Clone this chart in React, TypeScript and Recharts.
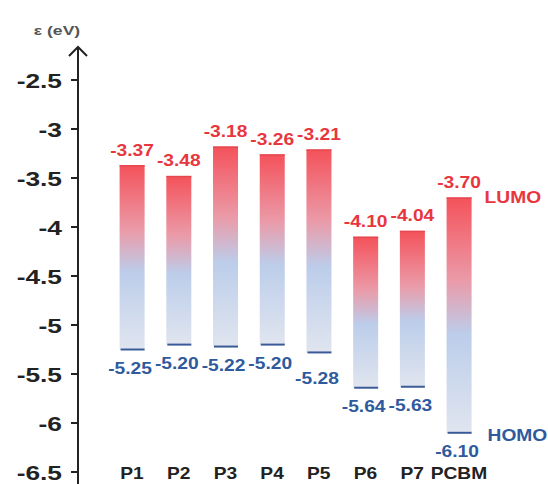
import { BarChart, Bar, XAxis, YAxis, LabelList } from "recharts";

const materials = ["P1", "P2", "P3", "P4", "P5", "P6", "P7", "PCBM"];
const lumo = [-3.37, -3.48, -3.18, -3.26, -3.21, -4.1, -4.04, -3.7];
const homo = [-5.25, -5.2, -5.22, -5.2, -5.28, -5.64, -5.63, -6.1];
const yTicks = [-6.5, -6, -5.5, -5, -4.5, -4, -3.5, -3, -2.5];
const yDomain = [-6.6224, -2.1633];

const data = materials.map((name, i) => ({
  name,
  lumo: lumo[i],
  homo: homo[i],
  range: [homo[i], lumo[i]],
}));

const RED = "#e8363e";
const BLUE = "#2f5a9e";
const FONT = "'Liberation Sans', Arial, sans-serif";

function boxOf(p: any) {
  const v = p.viewBox && p.viewBox.width != null ? p.viewBox : p;
  const top = Math.min(v.y, v.y + v.height);
  const bottom = Math.max(v.y, v.y + v.height);
  return { x: v.x, w: v.width, top, bottom };
}

const Stretched = ({ x, y, children, sx = 1.2, size = 16, color = "#222", anchor = "middle", weight = "bold" }: any) => (
  <text
    transform={`translate(${x} ${y}) scale(${sx} 1)`}
    textAnchor={anchor}
    dominantBaseline="central"
    fontFamily={FONT}
    fontSize={size}
    fontWeight={weight}
    fill={color}
  >
    {children}
  </text>
);

const EnergyBar = (props: any) => {
  const { x, y, width, height } = props;
  const top = Math.min(y, y + height);
  const h = Math.abs(height);
  return (
    <g>
      <rect x={x} y={top} width={width} height={h} fill="url(#energyGrad)" />
      <line x1={x} x2={x + width} y1={top + 0.5} y2={top + 0.5} stroke="#e54850" strokeWidth={1.5} />
      <line x1={x + 1} x2={x + width} y1={top + h} y2={top + h} stroke="#3b5b98" strokeWidth={2} />
    </g>
  );
};

const lumoLabel = (p: any) => {
  const b = boxOf(p);
  const cx = b.x + b.w / 2;
  return (
    <g key={`l${p.index}`}>
      <Stretched x={cx} y={b.top - 15} color={RED}>
        {Number(p.value).toFixed(2)}
      </Stretched>
      {p.index === materials.length - 1 && (
        <Stretched x={b.x + b.w + 13} y={b.top} color={RED} anchor="start">
          LUMO
        </Stretched>
      )}
    </g>
  );
};

const homoLabel = (p: any) => {
  const b = boxOf(p);
  const cx = b.x + b.w / 2;
  const extra = p.index === 4 ? 7 : 0;
  return (
    <g key={`h${p.index}`}>
      <Stretched x={cx - 2} y={b.bottom + 19 + extra} color={BLUE}>
        {Number(p.value).toFixed(2)}
      </Stretched>
      {p.index === materials.length - 1 && (
        <Stretched x={b.x + b.w + 16} y={b.bottom + 3} color={BLUE} anchor="start">
          HOMO
        </Stretched>
      )}
    </g>
  );
};

const YTick = ({ x, y, payload }: any) => (
  <Stretched x={x} y={y + 1} sx={1.35} size={19.5} anchor="end" color="#222">
    {String(payload.value)}
  </Stretched>
);

const XTick = ({ x, y, payload }: any) => (
  <Stretched x={x} y={y - 10} sx={1.2} size={16} color="#222">
    {payload.value}
  </Stretched>
);

// arrow head, axis title and the short tick marks on the left of the axis
const AxisDecor = (p: any) => {
  const v = p.viewBox || {};
  const ax = v.x + v.width;
  const top = v.y;
  const span = yDomain[1] - yDomain[0];
  return (
    <g>
      <polyline
        points={`${ax - 9},${top + 9} ${ax},${top} ${ax + 9},${top + 9}`}
        fill="none"
        stroke="#222"
        strokeWidth={2}
      />
      {yTicks.map((t) => {
        const ty = top + ((yDomain[1] - t) / span) * v.height;
        return <line key={t} x1={ax - 7} x2={ax} y1={ty} y2={ty} stroke="#222" strokeWidth={2} />;
      })}
      <Stretched x={ax - 21} y={top - 17} sx={1.35} size={13} color="#555">
        ε (eV)
      </Stretched>
    </g>
  );
};

export default function App() {
  return (
    <div style={{ position: "absolute", left: 0, top: 0, width: 548, height: 484, overflow: "hidden", background: "#fff" }}>
      <BarChart
        width={548}
        height={520}
        data={data}
        margin={{ top: 47, right: 0, bottom: 0, left: 0 }}
        barSize={25}
      >
        <defs>
          <linearGradient id="energyGrad" x1="0" y1="0" x2="0" y2="1">
            <stop offset="0%" stopColor="#f4525a" />
            <stop offset="35%" stopColor="#eb9aa8" />
            <stop offset="58%" stopColor="#bccdea" />
            <stop offset="100%" stopColor="#e0e5ef" />
          </linearGradient>
        </defs>
        <XAxis
          dataKey="name"
          height={36}
          axisLine={false}
          tickLine={false}
          tickSize={0}
          tickMargin={0}
          interval={0}
          padding={{ left: 30.6, right: 65.7 }}
          tick={<XTick />}
        />
        <YAxis
          type="number"
          width={78}
          domain={yDomain}
          ticks={yTicks}
          interval={0}
          allowDataOverflow
          axisLine={{ stroke: "#222", strokeWidth: 2 }}
          tickLine={false}
          tickSize={7}
          tickMargin={9}
          tick={<YTick />}
          label={(p: any) => <AxisDecor {...p} />}
        />
        <Bar dataKey="range" shape={<EnergyBar />} isAnimationActive={false}>
          <LabelList dataKey="lumo" content={lumoLabel} />
          <LabelList dataKey="homo" content={homoLabel} />
        </Bar>
      </BarChart>
    </div>
  );
}
